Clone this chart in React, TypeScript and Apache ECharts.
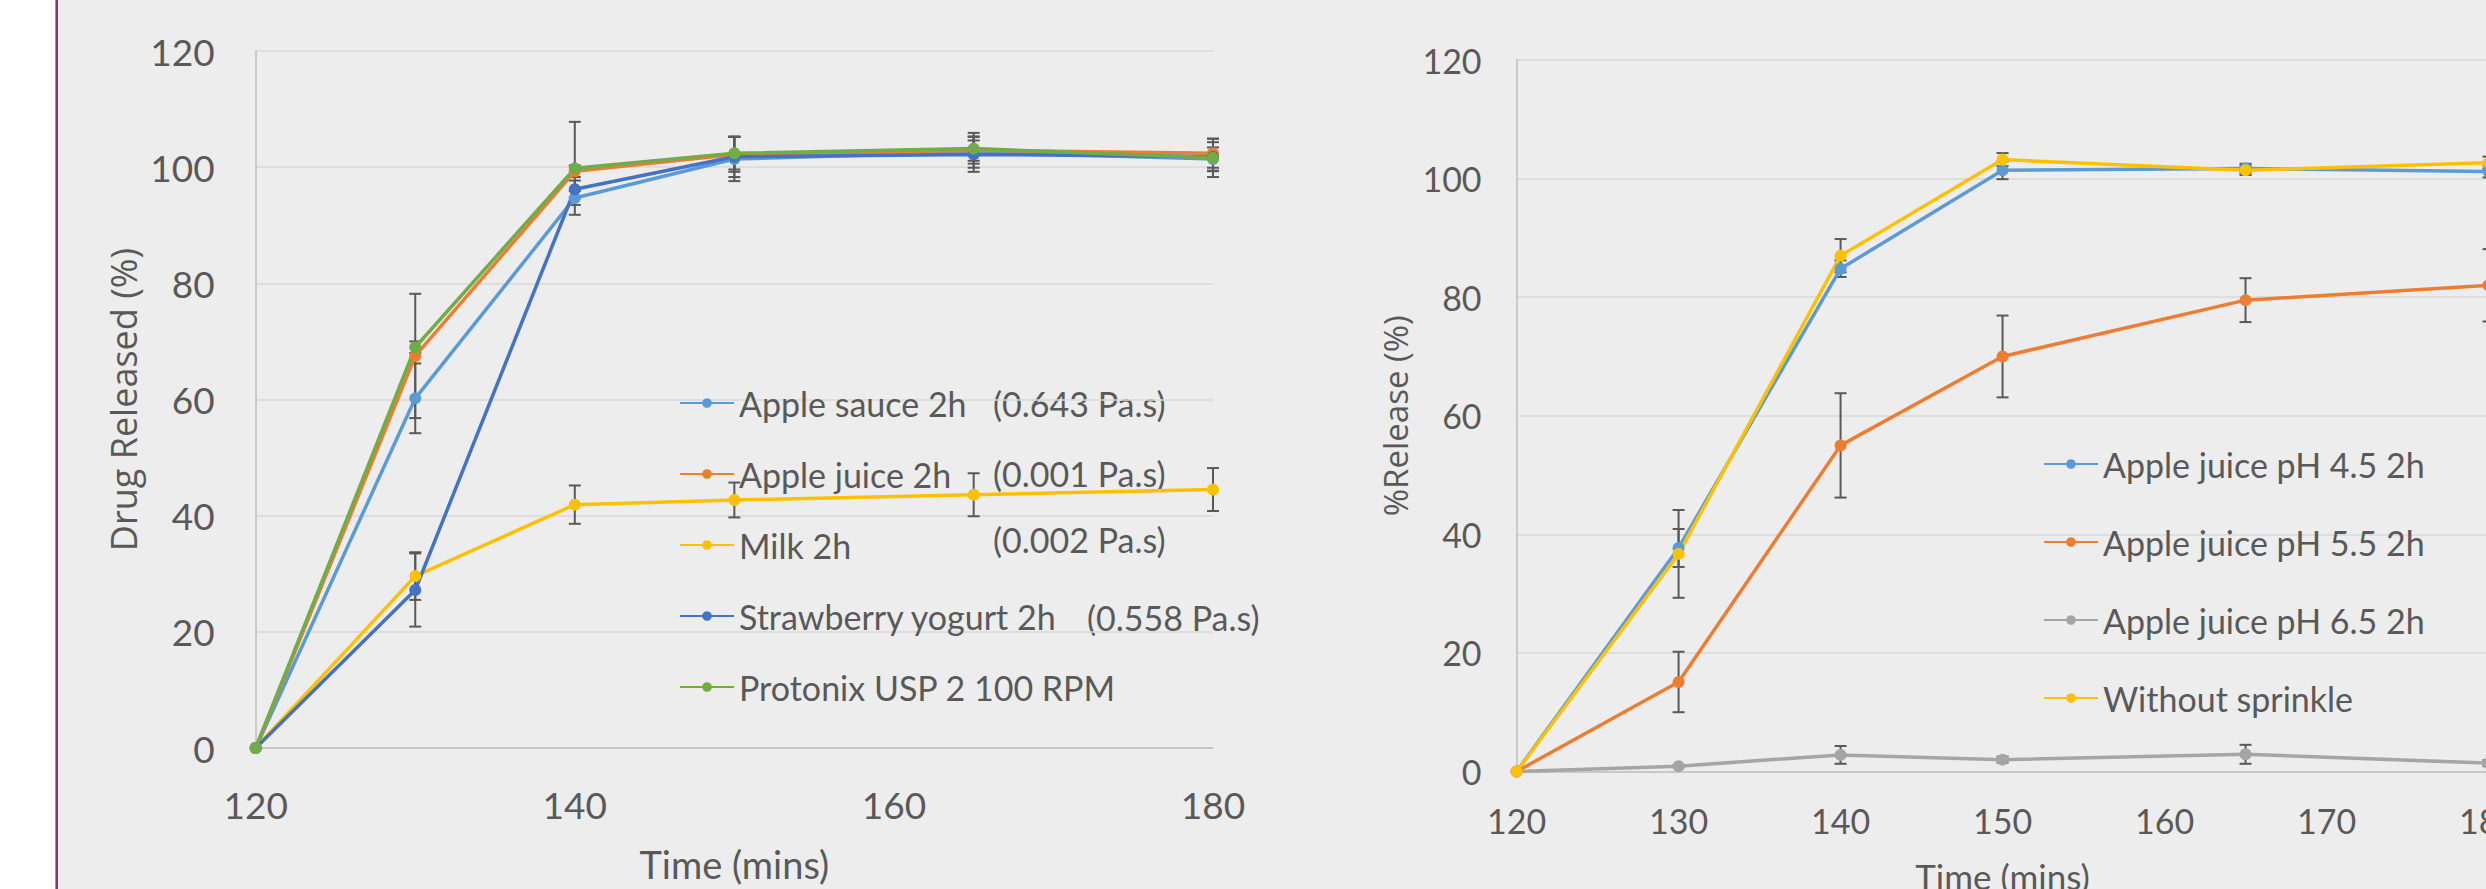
import React, { useEffect, useRef } from "react";
import * as echarts from "echarts";

// ---------- DATA ----------
const timeLeft = [120, 130, 140, 150, 165, 180];
const appleSauce = [0, 60.2, 94.7, 101.4, 102.6, 101.4];
const appleSauceErr = [0, 6.0, 1.2, 3.8, 2.0, 2.0];
const appleJuice = [0, 67.5, 99.3, 102.2, 102.9, 102.4];
const appleJuiceErr = [0, 10.7, 1.0, 3.0, 3.0, 2.5];
const milk = [0, 29.6, 41.9, 42.7, 43.6, 44.5];
const milkErr = [0, 4.1, 3.3, 3.0, 3.7, 3.7];
const yogurt = [0, 27.2, 96.2, 101.8, 102.2, 101.8];
const yogurtErr = [0, 6.3, 1.5, 3.5, 3.0, 2.5];
const protonix = [0, 69.0, 99.8, 102.4, 103.2, 101.6];
const protonixErr = [0, 1.0, 8.0, 2.8, 2.1, 3.3];

const timeRight = [120, 130, 140, 150, 165, 180];
const ph45 = [0, 37.7, 84.8, 101.4, 101.7, 101.2];
const ph45Err = [0, 3.2, 1.4, 1.5, 0.8, 1.0];
const ph55 = [0, 15.1, 55.0, 70.0, 79.5, 82.0];
const ph55Err = [0, 5.1, 8.8, 6.9, 3.7, 6.1];
const ph65 = [0, 0.9, 2.8, 2.0, 2.9, 1.4];
const ph65Err = [0, 0.2, 1.5, 0.5, 1.6, 0.5];
const noSprinkle = [0, 36.7, 87.0, 103.2, 101.4, 102.7];
const noSprinkleErr = [0, 7.4, 2.8, 1.1, 0.8, 1.0];

const leftNames = [
  "Apple sauce 2h",
  "Apple juice 2h",
  "Milk 2h",
  "Strawberry yogurt 2h",
  "Protonix USP 2 100 RPM",
];
const rightNames = [
  "Apple juice pH 4.5 2h",
  "Apple juice pH 5.5 2h",
  "Apple juice pH 6.5 2h",
  "Without sprinkle",
];
const viscosityNotes = ["(0.643 Pa.s)", "(0.001 Pa.s)", "(0.002 Pa.s)", "(0.558 Pa.s)"];

const xTicksLeft = { min: 120, max: 180, interval: 20 };
const xTicksRight = { min: 120, max: 180, interval: 10 };
const yTicks = { min: 0, max: 120, interval: 20 };

// ---------- STYLE ----------
const TEXT = "#595959";
const GRIDC = "#D9D9D9";
const AXISC = "#BFBFBF";
const BG = "#EDEDED";
const FONT = "Lato, 'Noto Sans', sans-serif";
const TITLEFONT = "'Open Sans', 'DejaVu Sans', sans-serif";

const colorsLeft = ["#5B9BD5", "#ED7D31", "#FFC000", "#4472C4", "#70AD47"];
const colorsRight = ["#5B9BD5", "#ED7D31", "#A5A5A5", "#FFC000"];

function errData(xs: number[], ys: number[], es: number[]) {
  const out: number[][] = [];
  xs.forEach((x, i) => {
    if (es[i] > 0) out.push([x, ys[i] - es[i], ys[i] + es[i]]);
  });
  return out;
}

function errSeries(name: string, idx: number, data: number[][]) {
  return {
    type: "custom",
    name,
    xAxisIndex: idx,
    yAxisIndex: idx,
    z: 1,
    silent: true,
    encode: { x: 0, y: [1, 2] },
    data,
    renderItem: (params: any, api: any) => {
      const x = api.value(0);
      const lo = api.coord([x, api.value(1)]);
      const hi = api.coord([x, api.value(2)]);
      const hw = 6;
      const style = { stroke: "#595959", lineWidth: 2, fill: "none" };
      return {
        type: "group",
        children: [
          { type: "line", shape: { x1: lo[0], y1: lo[1], x2: hi[0], y2: hi[1] }, style },
          { type: "line", shape: { x1: lo[0] - hw, y1: lo[1], x2: lo[0] + hw, y2: lo[1] }, style },
          { type: "line", shape: { x1: hi[0] - hw, y1: hi[1], x2: hi[0] + hw, y2: hi[1] }, style },
        ],
      };
    },
  };
}

function lineSeries(name: string, idx: number, xs: number[], ys: number[], color: string) {
  return {
    type: "line",
    name,
    xAxisIndex: idx,
    yAxisIndex: idx,
    z: 2,
    data: xs.map((x, i) => [x, ys[i]]),
    symbol: "circle",
    symbolSize: 12,
    showSymbol: true,
    lineStyle: { width: 3.5, color },
    itemStyle: { color },
  };
}

export default function App() {
  const ref = useRef<HTMLDivElement>(null);

  useEffect(() => {
    if (!ref.current) return;
    const chart = echarts.init(ref.current, undefined, { renderer: "svg" });

    const leftVals = [appleSauce, appleJuice, milk, yogurt, protonix];
    const leftErrs = [appleSauceErr, appleJuiceErr, milkErr, yogurtErr, protonixErr];
    const rightVals = [ph45, ph55, ph65, noSprinkle];
    const rightErrs = [ph45Err, ph55Err, ph65Err, noSprinkleErr];

    const series: any[] = [];
    leftNames.forEach((n, i) => {
      series.push(errSeries("err-L-" + i, 0, errData(timeLeft, leftVals[i], leftErrs[i])));
    });
    leftNames.forEach((n, i) => {
      series.push(lineSeries(n, 0, timeLeft, leftVals[i], colorsLeft[i]));
    });
    rightNames.forEach((n, i) => {
      series.push(errSeries("err-R-" + i, 1, errData(timeRight, rightVals[i], rightErrs[i])));
    });
    rightNames.forEach((n, i) => {
      series.push(lineSeries(n, 1, timeRight, rightVals[i], colorsRight[i]));
    });

    const xAxisBase = (ticks: any, fs: number, margin: number, nameGap: number, nameFs: number) => ({
      type: "value",
      min: ticks.min,
      max: ticks.max,
      interval: ticks.interval,
      name: "Time (mins)",
      nameLocation: "middle",
      nameGap,
      nameTextStyle: { color: TEXT, fontFamily: FONT, fontSize: nameFs, lineHeight: 44 },
      axisLine: { show: true, onZero: false, lineStyle: { color: AXISC, width: 1.5 } },
      axisTick: { show: false },
      splitLine: { show: false },
      axisLabel: { color: TEXT, fontFamily: FONT, fontSize: fs, margin, lineHeight: 40 },
    });

    const yAxisBase = (name: string, fs: number, margin: number, nameGap: number, nameFs: number) => ({
      type: "value",
      min: yTicks.min,
      max: yTicks.max,
      interval: yTicks.interval,
      name,
      nameLocation: "middle",
      nameRotate: 90,
      nameGap,
      nameTextStyle: { color: TEXT, fontFamily: TITLEFONT, fontSize: nameFs, lineHeight: 40 },
      axisLine: { show: true, lineStyle: { color: AXISC, width: 1.5 } },
      axisTick: { show: false },
      splitLine: { show: true, lineStyle: { color: GRIDC, width: 1.5 } },
      axisLabel: { color: TEXT, fontFamily: FONT, fontSize: fs, margin, lineHeight: 40 },
    });

    const legendBase = {
      orient: "vertical",
      padding: 0,
      itemWidth: 54,
      itemHeight: 12,
      selectedMode: false,
      textStyle: { color: TEXT, fontFamily: FONT, fontSize: 34, lineHeight: 40 },
    };

    const noteY = [403, 473, 539, 617];
    const noteX = [993, 993, 993, 1087];

    chart.setOption({
      animation: false,
      backgroundColor: BG,
      grid: [
        { left: 255.7, top: 51, width: 957.3, height: 697, containLabel: false, outerBoundsMode: "none" },
        { left: 1516.6, top: 60, width: 971.9, height: 711.5, containLabel: false, outerBoundsMode: "none" },
      ],
      xAxis: [
        { ...xAxisBase(xTicksLeft, 37, 36, 94, 38), gridIndex: 0 },
        { ...xAxisBase(xTicksRight, 34, 29, 82, 35), gridIndex: 1 },
      ],
      yAxis: [
        { ...yAxisBase("Drug Released (%)", 37, 41, 112, 36), gridIndex: 0 },
        { ...yAxisBase("%Release (%)", 34, 35, 101, 33), gridIndex: 1 },
      ],
      legend: [
        { ...legendBase, data: leftNames, left: 679, top: 383, itemGap: 31 },
        { ...legendBase, data: rightNames, left: 2043, top: 444, itemGap: 38 },
      ],
      graphic: [
        { type: "rect", left: 0, top: 0, shape: { x: 0, y: 0, width: 55.5, height: 889 }, style: { fill: "#FFFFFF" }, z: 0 },
        { type: "line", shape: { x1: 56.7, y1: 0, x2: 56.7, y2: 889 }, style: { stroke: "#8E2F6E", lineWidth: 2.5 } },
        ...viscosityNotes.map((t, i) => ({
          type: "text",
          x: noteX[i],
          y: noteY[i],
          style: {
            text: t,
            fill: TEXT,
            fontFamily: FONT,
            fontSize: 34,
            verticalAlign: "middle",
            align: "left",
          },
        })),
      ],
      series,
    });

    return () => chart.dispose();
  }, []);

  return (
    <div
      ref={ref}
      style={{ position: "absolute", left: 0, top: 0, width: 2486, height: 889, overflow: "hidden" }}
    />
  );
}
